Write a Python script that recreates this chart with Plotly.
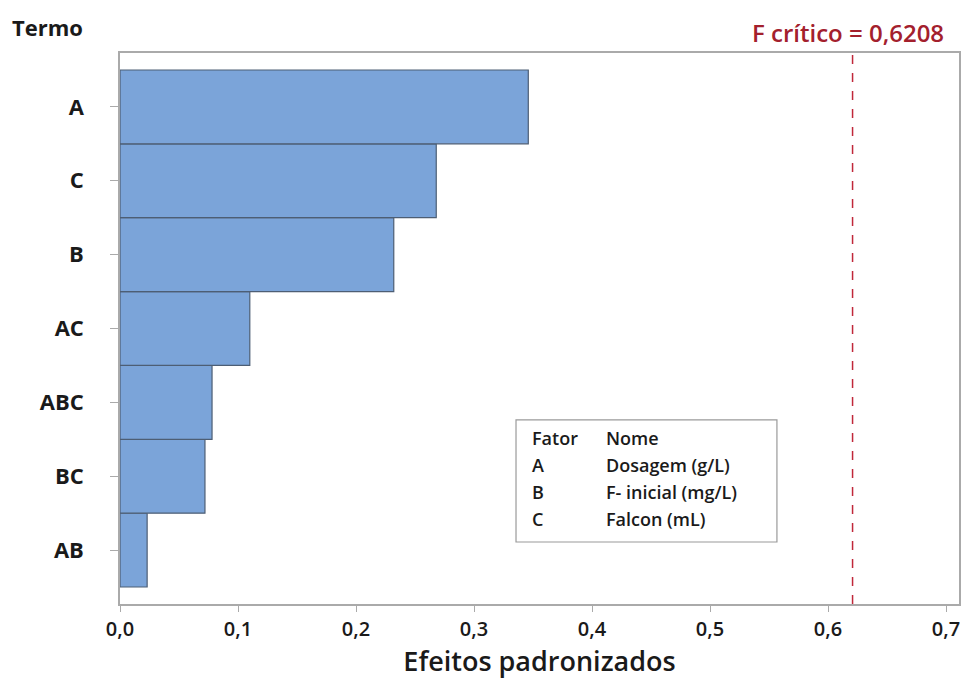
import plotly.graph_objects as go

termos = ["AB", "BC", "ABC", "AC", "B", "C", "A"]
efeitos = [0.023, 0.072, 0.078, 0.110, 0.232, 0.268, 0.346]
f_critico = 0.6208
x_ticks = [0.0, 0.1, 0.2, 0.3, 0.4, 0.5, 0.6, 0.7]
fatores = ["A", "B", "C"]
nomes = ["Dosagem (g/L)", "F- inicial (mg/L)", "Falcon (mL)"]

FONT = "Open Sans"
TXT = "#1a1a1a"

fig = go.Figure()
fig.add_trace(go.Bar(
    y=termos, x=efeitos, orientation="h", width=1.0,
    marker=dict(color="#7ba4d9", line=dict(color="#4d5e74", width=1.2)),
    hoverinfo="x+y",
))

fig.add_shape(type="line", xref="x", yref="paper", x0=f_critico, x1=f_critico,
              y0=0, y1=1, line=dict(color="#c0283a", width=1.5, dash="dash"))

fig.add_annotation(xref="paper", yref="paper", x=0.985, y=1.0, yshift=2,
                   xanchor="right", yanchor="bottom",
                   text=f"F crítico = {str(f_critico).replace('.', ',')}",
                   showarrow=False, font=dict(family=FONT, size=24, color="#a3202d", weight=600))

fig.add_annotation(xref="paper", yref="paper", x=-0.131, y=1.0, yshift=9,
                   xanchor="left", yanchor="bottom", text="Termo",
                   showarrow=False, font=dict(family=FONT, size=22, color=TXT, weight=700))

# legend box
lx0, lx1, ly0, ly1 = 0.472, 0.783, 0.1125, 0.334
fig.add_shape(type="rect", xref="paper", yref="paper", x0=lx0, x1=lx1, y0=ly0, y1=ly1,
              line=dict(color="#9a9a9a", width=1.2), fillcolor="white")
col1 = ["Fator"] + fatores
col2 = ["Nome"] + nomes
for i, (a, b) in enumerate(zip(col1, col2)):
    yy = ly1 - 0.033 - i * 0.049
    fig.add_annotation(xref="paper", yref="paper", x=lx0 + 0.017, y=yy, xanchor="left",
                       yanchor="middle", text=a, showarrow=False,
                       font=dict(family=FONT, size=18, color=TXT, weight=600))
    fig.add_annotation(xref="paper", yref="paper", x=lx0 + 0.105, y=yy, xanchor="left",
                       yanchor="middle", text=b, showarrow=False,
                       font=dict(family=FONT, size=18, color=TXT, weight=600))

fig.update_layout(
    width=964, height=680,
    margin=dict(l=120, r=5, t=53, b=76),
    plot_bgcolor="white", paper_bgcolor="white",
    separators=",.",
    showlegend=False,
    font=dict(family=FONT, color=TXT),
    xaxis=dict(range=[0, 0.711], tickvals=x_ticks, tickformat=".1f",
               ticks="outside", ticklen=6, tickcolor="#aaa", automargin=False,
               showgrid=False, zeroline=False,
               showline=True, linecolor="#aaa", linewidth=1.5, mirror=True,
               tickfont=dict(family=FONT, size=20, color=TXT, weight=600),
               title=dict(text="Efeitos padronizados", standoff=4,
                          font=dict(family=FONT, size=27, color=TXT, weight=600))),
    yaxis=dict(range=[-0.73, 6.73], ticks="outside", ticklen=8, tickcolor="#aaa",
               showgrid=False, zeroline=False, automargin=False,
               showline=True, linecolor="#aaa", linewidth=1.5, mirror=True,
               ticklabelstandoff=22,
               tickfont=dict(family=FONT, size=22, color=TXT, weight=700)),
)

fig.write_html("out.html", config={"displayModeBar": False},
               post_script="document.body.style.margin='0px';")
